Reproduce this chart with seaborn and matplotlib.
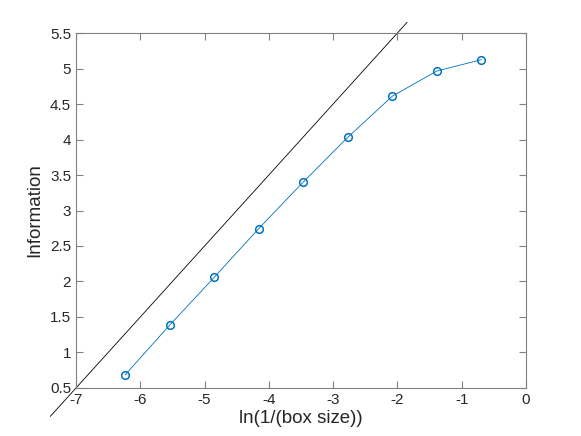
import numpy as np
import pandas as pd
import seaborn as sns
import matplotlib.pyplot as plt

# box sizes 1/512 ... 1/2 -> ln(1/box size)
box_size = [1/512, 1/256, 1/128, 1/64, 1/32, 1/16, 1/8, 1/4, 1/2]
information = [0.683, 1.383, 2.057, 2.744, 3.40, 4.03, 4.61, 4.965, 5.124]

# reference slope-1 line
ref_x = [-7.40, -1.85]
ref_y = [0.10, 5.65]

x_ticks = [-7, -6, -5, -4, -3, -2, -1, 0]
y_ticks = [0.5, 1, 1.5, 2, 2.5, 3, 3.5, 4, 4.5, 5, 5.5]


def main():
    sns.set_style("ticks")
    plt.rcParams['font.family'] = ['Liberation Sans', 'DejaVu Sans']

    df = pd.DataFrame({"x": np.log(box_size), "info": information})

    fig = plt.figure(figsize=(5.81, 4.36), dpi=100)
    ax = fig.add_axes([0.1308, 0.1101, 0.7745, 0.8142])

    sns.lineplot(data=df, x="x", y="info", ax=ax, color="#0072BD",
                 marker="o", markersize=5.5, markerfacecolor="none",
                 markeredgecolor="#0072BD", markeredgewidth=1.1, linewidth=0.6)
    ax.plot(ref_x, ref_y, color="black", linewidth=0.6, clip_on=False)

    ax.set_xlim(-7, 0)
    ax.set_ylim(0.5, 5.5)
    ax.set_xticks(x_ticks)
    ax.set_yticks(y_ticks)
    ax.set_xticklabels([str(t) for t in x_ticks])
    ax.set_yticklabels([f"{t:g}" for t in y_ticks])

    for s in ax.spines.values():
        s.set_visible(True)
        s.set_color("#808080")
        s.set_linewidth(0.8)
    ax.tick_params(direction="in", length=5, width=0.8, color="#808080",
                   labelsize=11, labelcolor="#262626", top=True, right=True)

    ax.set_xlabel("ln(1/(box size))", fontsize=13.5, color="#262626", labelpad=2)
    ax.set_ylabel("Information", fontsize=13.5, color="#262626", labelpad=5)

    fig.savefig("out.png", dpi=100)


if __name__ == "__main__":
    main()
